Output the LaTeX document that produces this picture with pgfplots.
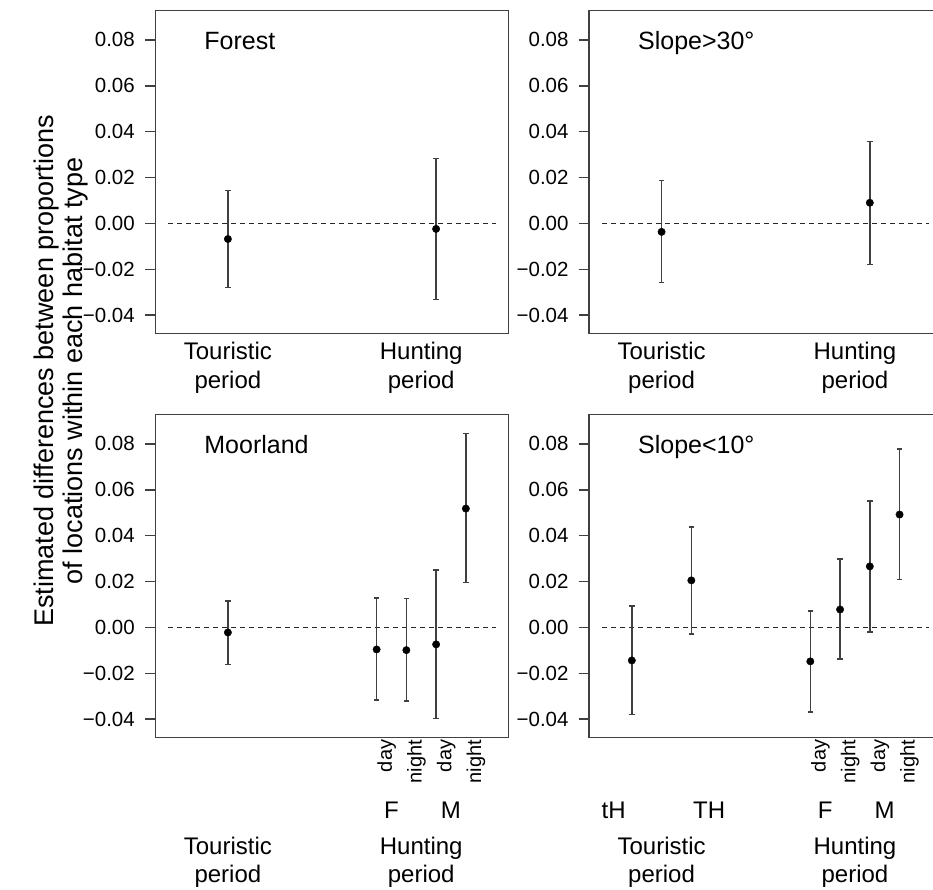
\documentclass[border=0pt]{standalone}
\usepackage{fontspec}
\setmainfont{Liberation Sans}
\usepackage{pgfplots}
\pgfplotsset{compat=1.18}
\usepackage{pgfplotstable}

\pgfplotstableread{
x y lo hi
2 -0.0068 -0.0279 0.0144
9 -0.0024 -0.0332 0.0282
}\forest
\pgfplotstableread{
x y lo hi
2 -0.0037 -0.0258 0.0187
9 0.0090 -0.0179 0.0357
}\slopehigh
\pgfplotstableread{
x y lo hi
2 -0.0022 -0.0161 0.0116
7 -0.0096 -0.0317 0.0129
8 -0.0099 -0.0321 0.0125
9 -0.0074 -0.0397 0.0251
10 0.0518 0.0196 0.0845
}\moorland
\pgfplotstableread{
x y lo hi
1 -0.0144 -0.0379 0.0094
3 0.0205 -0.0028 0.0438
7 -0.0148 -0.0368 0.0071
8 0.0078 -0.0138 0.0299
9 0.0266 -0.0019 0.0552
10 0.0492 0.0209 0.0778
}\slopelow

\newcommand{\ttl}{\fontsize{25}{30}\selectfont}
\newcommand{\xl}{\fontsize{24}{29}\selectfont}
\newcommand{\sm}{\fontsize{20}{24}\selectfont}
\newcommand{\tk}{\fontsize{20.5}{24}\selectfont}

\pgfplotsset{
 panel/.style={
  scale only axis, width=353.4pt, height=323pt,
  xmin=-0.44, xmax=11.44, ymin=-0.0479, ymax=0.0929,
  xtick=\empty, ytick={-0.04,-0.02,0,0.02,0.04,0.06,0.08},
  yticklabels={{\tk −0.04},{\tk −0.02},{\tk 0.00},{\tk 0.02},{\tk 0.04},{\tk 0.06},{\tk 0.08}},
  scaled y ticks=false,
  tick align=outside, major tick length=10.3pt, ytick pos=left,
  axis line style={black!75, line width=1.5pt},
  every tick/.style={black!75, line width=1.5pt},
  yticklabel style={font=\tk, inner sep=0pt, xshift=-10pt},
  clip=false, anchor=south west,
 },
 ebar/.style={only marks, mark=*, mark size=3.7pt, black,
   error bars/.cd, y dir=both, y explicit,
   error bar style={black!75, line width=1.5pt},
   error mark options={rotate=90, mark size=2.8pt, black!75, line width=1.5pt}},
 zeroline/.style={black!85, line width=1.2pt, dash pattern=on 4.5pt off 4.5pt, no marks},
}

\begin{document}
\begin{tikzpicture}
\path[use as bounding box] (0pt,0pt) rectangle (933pt,890pt);

% Top-left: Forest
\begin{axis}[panel, at={(155.3pt,556.7pt)}]
\addplot[zeroline] coordinates {(0,0) (11,0)};
\addplot[ebar] table[x=x,y=y,y error plus expr=\thisrow{hi}-\thisrow{y},y error minus expr=\thisrow{y}-\thisrow{lo}] {\forest};
\node[anchor=base west, font=\ttl] at (rel axis cs:0.129,0.878) {Forest};
\node[anchor=base, font=\xl, yshift=-26pt] at (axis cs:2,-0.0479) {Touristic};
\node[anchor=base, font=\xl, yshift=-55pt] at (axis cs:2,-0.0479) {period};
\node[anchor=base, font=\xl, yshift=-26pt] at (axis cs:8.5,-0.0479) {Hunting};
\node[anchor=base, font=\xl, yshift=-55pt] at (axis cs:8.5,-0.0479) {period};
\end{axis}

% Top-right: Slope>30
\begin{axis}[panel, at={(589pt,556.7pt)}]
\addplot[zeroline] coordinates {(0,0) (11,0)};
\addplot[ebar] table[x=x,y=y,y error plus expr=\thisrow{hi}-\thisrow{y},y error minus expr=\thisrow{y}-\thisrow{lo}] {\slopehigh};
\node[anchor=base west, font=\ttl] at (rel axis cs:0.129,0.878) {Slope>30°};
\node[anchor=base, font=\xl, yshift=-26pt] at (axis cs:2,-0.0479) {Touristic};
\node[anchor=base, font=\xl, yshift=-55pt] at (axis cs:2,-0.0479) {period};
\node[anchor=base, font=\xl, yshift=-26pt] at (axis cs:8.5,-0.0479) {Hunting};
\node[anchor=base, font=\xl, yshift=-55pt] at (axis cs:8.5,-0.0479) {period};
\end{axis}

% Bottom-left: Moorland
\begin{axis}[panel, at={(155.3pt,152.7pt)}]
\addplot[zeroline] coordinates {(0,0) (11,0)};
\addplot[ebar] table[x=x,y=y,y error plus expr=\thisrow{hi}-\thisrow{y},y error minus expr=\thisrow{y}-\thisrow{lo}] {\moorland};
\node[anchor=base west, font=\ttl] at (rel axis cs:0.129,0.878) {Moorland};
\node[rotate=90, anchor=east, font=\sm, yshift=-10pt, xshift=1pt] at (axis cs:7,-0.0479) {day};
\node[rotate=90, anchor=east, font=\sm, yshift=-10pt, xshift=1pt] at (axis cs:8,-0.0479) {night};
\node[rotate=90, anchor=east, font=\sm, yshift=-10pt, xshift=1pt] at (axis cs:9,-0.0479) {day};
\node[rotate=90, anchor=east, font=\sm, yshift=-10pt, xshift=1pt] at (axis cs:10,-0.0479) {night};
\node[anchor=base, font=\xl, yshift=-81.7pt] at (axis cs:7.5,-0.0479) {F};
\node[anchor=base, font=\xl, yshift=-81.7pt] at (axis cs:9.5,-0.0479) {M};
\node[anchor=base, font=\xl, yshift=-116.7pt] at (axis cs:2,-0.0479) {Touristic};
\node[anchor=base, font=\xl, yshift=-145.5pt] at (axis cs:2,-0.0479) {period};
\node[anchor=base, font=\xl, yshift=-116.7pt] at (axis cs:8.5,-0.0479) {Hunting};
\node[anchor=base, font=\xl, yshift=-145.5pt] at (axis cs:8.5,-0.0479) {period};
\end{axis}

% Bottom-right: Slope<10
\begin{axis}[panel, at={(589pt,152.7pt)}]
\addplot[zeroline] coordinates {(0,0) (11,0)};
\addplot[ebar] table[x=x,y=y,y error plus expr=\thisrow{hi}-\thisrow{y},y error minus expr=\thisrow{y}-\thisrow{lo}] {\slopelow};
\node[anchor=base west, font=\ttl] at (rel axis cs:0.129,0.878) {Slope<10°};
\node[rotate=90, anchor=east, font=\sm, yshift=-10pt, xshift=1pt] at (axis cs:7,-0.0479) {day};
\node[rotate=90, anchor=east, font=\sm, yshift=-10pt, xshift=1pt] at (axis cs:8,-0.0479) {night};
\node[rotate=90, anchor=east, font=\sm, yshift=-10pt, xshift=1pt] at (axis cs:9,-0.0479) {day};
\node[rotate=90, anchor=east, font=\sm, yshift=-10pt, xshift=1pt] at (axis cs:10,-0.0479) {night};
\node[anchor=base, font=\xl, yshift=-81.7pt] at (axis cs:0.39,-0.0479) {tH};
\node[anchor=base, font=\xl, yshift=-81.7pt] at (axis cs:3.6,-0.0479) {TH};
\node[anchor=base, font=\xl, yshift=-81.7pt] at (axis cs:7.5,-0.0479) {F};
\node[anchor=base, font=\xl, yshift=-81.7pt] at (axis cs:9.5,-0.0479) {M};
\node[anchor=base, font=\xl, yshift=-116.7pt] at (axis cs:2,-0.0479) {Touristic};
\node[anchor=base, font=\xl, yshift=-145.5pt] at (axis cs:2,-0.0479) {period};
\node[anchor=base, font=\xl, yshift=-116.7pt] at (axis cs:8.5,-0.0479) {Hunting};
\node[anchor=base, font=\xl, yshift=-145.5pt] at (axis cs:8.5,-0.0479) {period};
\end{axis}

\node[rotate=90, align=center, font=\fontsize{27}{29.5}\selectfont] at (61pt,519pt) {Estimated differences between proportions\\of locations within each habitat type};
\end{tikzpicture}
\end{document}
